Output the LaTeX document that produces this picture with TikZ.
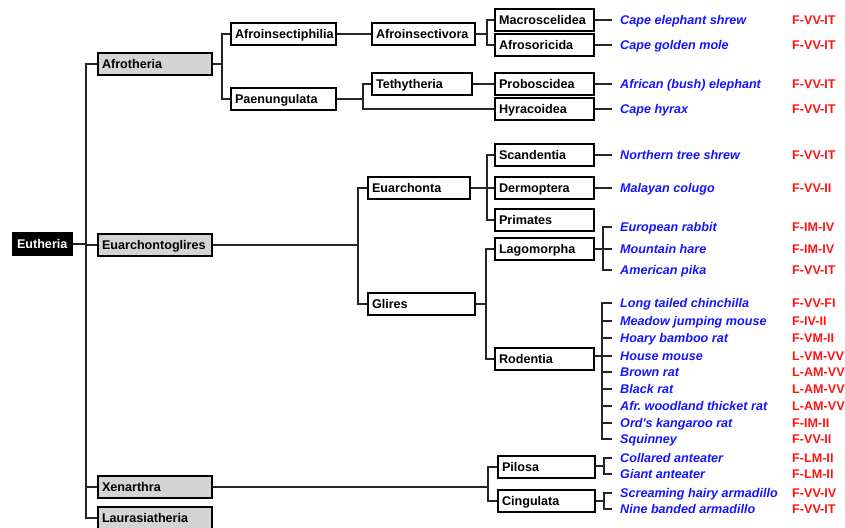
\documentclass[tikz,border=0pt]{standalone}
\usepackage{fontspec}
\setmainfont{Liberation Sans}
\usepackage{tikz}

\definecolor{boxgray}{HTML}{D4D4D4}
\definecolor{linegray}{HTML}{262626}
\definecolor{sppblue}{HTML}{1414FF}
\definecolor{codered}{HTML}{FF1414}

\tikzset{
  taxon/.style={draw=black, line width=2pt, anchor=west, inner xsep=4pt, inner ysep=0pt,
    minimum height=22pt, text height=10.5pt, text depth=2pt, align=left,
    font=\bfseries\fontsize{12.6}{14}\selectfont},
  rootbox/.style={taxon, fill=black, text=white, text width=51pt},
  superbox/.style={taxon, fill=boxgray, text width=106pt},
  cladebox/.style={taxon, fill=white, text width=#1},
  orderbox/.style={taxon, fill=white, text width=91pt},
  species/.style={anchor=west, inner xsep=8pt, inner ysep=0pt, text=sppblue,
    text height=10.5pt, text depth=2pt, font=\bfseries\itshape\fontsize{12.6}{14}\selectfont},
  code/.style={anchor=west, inner sep=0pt, text=codered,
    text height=10.5pt, text depth=2pt, font=\bfseries\fontsize{12.6}{14}\selectfont},
  branch/.style={draw=linegray, line width=2pt},
}

\begin{document}
\begin{tikzpicture}[x=1pt, y=-1pt]
  \useasboundingbox (0,0) rectangle (845,527);
  \clip (0,0) rectangle (845,527);

  % root and superorders
  \node[rootbox] (eutheria) at (12,244) {Eutheria};
  \node[superbox] (afrotheria) at (97,64) {Afrotheria};
  \node[superbox] (euarchontoglires) at (97,245) {Euarchontoglires};
  \node[superbox] (xenarthra) at (97,487) {Xenarthra};
  \node[superbox] (laurasiatheria) at (97,518) {Laurasiatheria};

  \coordinate (jEutheria) at (86,244);
  \draw[branch] (eutheria.east) -- (jEutheria);
  \draw[branch] (jEutheria) |- (afrotheria.west);
  \draw[branch] (jEutheria) |- (euarchontoglires.west);
  \draw[branch] (jEutheria) |- (xenarthra.west);
  \draw[branch] (jEutheria) |- (laurasiatheria.west);

  % Afrotheria
  \node[cladebox=97pt] (afroinsectiphilia) at (230,34) {Afroinsectiphilia};
  \node[cladebox=97pt] (paenungulata) at (230,99) {Paenungulata};
  \node[cladebox=95pt] (afroinsectivora) at (371,34) {Afroinsectivora};
  \node[cladebox=92pt] (tethytheria) at (371,84) {Tethytheria};
  \node[orderbox] (macroscelidea) at (494,20) {Macroscelidea};
  \node[orderbox] (afrosoricida) at (494,45) {Afrosoricida};
  \node[orderbox] (proboscidea) at (494,84) {Proboscidea};
  \node[orderbox] (hyracoidea) at (494,109) {Hyracoidea};

  \coordinate (jAfrotheria) at (222,64);
  \draw[branch] (afrotheria.east) -- (jAfrotheria);
  \draw[branch] (jAfrotheria) |- (afroinsectiphilia.west);
  \draw[branch] (jAfrotheria) |- (paenungulata.west);
  \draw[branch] (afroinsectiphilia) -- (afroinsectivora);
  \coordinate (jAfroinsectivora) at (487,34);
  \draw[branch] (afroinsectivora.east) -- (jAfroinsectivora);
  \draw[branch] (jAfroinsectivora) |- (macroscelidea.west);
  \draw[branch] (jAfroinsectivora) |- (afrosoricida.west);
  \coordinate (jPaenungulata) at (363,99);
  \draw[branch] (paenungulata.east) -- (jPaenungulata);
  \draw[branch] (jPaenungulata) |- (tethytheria.west);
  \draw[branch] (jPaenungulata) |- (hyracoidea.west);
  \draw[branch] (tethytheria) -- (proboscidea);

  \node[species] (capeShrew) at (612,20) {Cape elephant shrew};
  \node[species] (capeMole) at (612,45) {Cape golden mole};
  \node[species] (bushElephant) at (612,84) {African (bush) elephant};
  \node[species] (capeHyrax) at (612,109) {Cape hyrax};
  \draw[branch] (macroscelidea.east) -- (capeShrew.west);
  \draw[branch] (afrosoricida.east) -- (capeMole.west);
  \draw[branch] (proboscidea.east) -- (bushElephant.west);
  \draw[branch] (hyracoidea.east) -- (capeHyrax.west);

  % Euarchontoglires
  \node[cladebox=94pt] (euarchonta) at (367,188) {Euarchonta};
  \node[cladebox=99pt] (glires) at (367,304) {Glires};
  \node[orderbox] (scandentia) at (494,155) {Scandentia};
  \node[orderbox] (dermoptera) at (494,188) {Dermoptera};
  \node[orderbox] (primates) at (494,220) {Primates};
  \node[orderbox] (lagomorpha) at (494,249) {Lagomorpha};
  \node[orderbox] (rodentia) at (494,359) {Rodentia};

  \coordinate (jEuarchontoglires) at (358,245);
  \draw[branch] (euarchontoglires.east) -- (jEuarchontoglires);
  \draw[branch] (jEuarchontoglires) |- (euarchonta.west);
  \draw[branch] (jEuarchontoglires) |- (glires.west);
  \coordinate (jEuarchonta) at (487,188);
  \draw[branch] (euarchonta.east) -- (jEuarchonta);
  \draw[branch] (jEuarchonta) |- (scandentia.west);
  \draw[branch] (jEuarchonta) |- (dermoptera.west);
  \draw[branch] (jEuarchonta) |- (primates.west);
  \coordinate (jGlires) at (486,304);
  \draw[branch] (glires.east) -- (jGlires);
  \draw[branch] (jGlires) |- (lagomorpha.west);
  \draw[branch] (jGlires) |- (rodentia.west);

  \node[species] (treeShrew) at (612,155) {Northern tree shrew};
  \node[species] (colugo) at (612,188) {Malayan colugo};
  \draw[branch] (scandentia.east) -- (treeShrew.west);
  \draw[branch] (dermoptera.east) -- (colugo.west);

  % Lagomorpha
  \node[species] (rabbit) at (612,227) {European rabbit};
  \node[species] (hare) at (612,249) {Mountain hare};
  \node[species] (pika) at (612,270) {American pika};
  \coordinate (jLagomorpha) at (603,249);
  \draw[branch] (lagomorpha.east) -- (jLagomorpha);
  \draw[branch] (jLagomorpha) |- (rabbit.west);
  \draw[branch] (jLagomorpha) |- (hare.west);
  \draw[branch] (jLagomorpha) |- (pika.west);

  % Rodentia
  \node[species] (chinchilla) at (612,303) {Long tailed chinchilla};
  \node[species] (jumpingMouse) at (612,321) {Meadow jumping mouse};
  \node[species] (bambooRat) at (612,338) {Hoary bamboo rat};
  \node[species] (houseMouse) at (612,356) {House mouse};
  \node[species] (brownRat) at (612,372) {Brown rat};
  \node[species] (blackRat) at (612,389) {Black rat};
  \node[species] (thicketRat) at (612,406) {Afr.\ woodland thicket rat};
  \node[species] (kangarooRat) at (612,423) {Ord\textquotesingle s kangaroo rat};
  \node[species] (squinney) at (612,439) {Squinney};
  \coordinate (jRodentia) at (602,356);
  \draw[branch] (rodentia.east |- jRodentia) -- (jRodentia);
  \draw[branch] (jRodentia) |- (chinchilla.west);
  \draw[branch] (jRodentia) |- (jumpingMouse.west);
  \draw[branch] (jRodentia) |- (bambooRat.west);
  \draw[branch] (jRodentia) |- (houseMouse.west);
  \draw[branch] (jRodentia) |- (brownRat.west);
  \draw[branch] (jRodentia) |- (blackRat.west);
  \draw[branch] (jRodentia) |- (thicketRat.west);
  \draw[branch] (jRodentia) |- (kangarooRat.west);
  \draw[branch] (jRodentia) |- (squinney.west);

  % Xenarthra
  \node[cladebox=89pt] (pilosa) at (497,467) {Pilosa};
  \node[cladebox=89pt] (cingulata) at (497,501) {Cingulata};
  \coordinate (jXenarthra) at (488,487);
  \draw[branch] (xenarthra.east) -- (jXenarthra);
  \draw[branch] (jXenarthra) |- (pilosa.west);
  \draw[branch] (jXenarthra) |- (cingulata.west);

  \node[species] (collaredAnteater) at (612,458) {Collared anteater};
  \node[species] (giantAnteater) at (612,474) {Giant anteater};
  \node[species] (hairyArmadillo) at (612,493) {Screaming hairy armadillo};
  \node[species] (bandedArmadillo) at (612,509) {Nine banded armadillo};
  \coordinate (jPilosa) at (604,466);
  \draw[branch] (pilosa.east |- jPilosa) -- (jPilosa);
  \draw[branch] (jPilosa) |- (collaredAnteater.west);
  \draw[branch] (jPilosa) |- (giantAnteater.west);
  \coordinate (jCingulata) at (604,501);
  \draw[branch] (cingulata.east) -- (jCingulata);
  \draw[branch] (jCingulata) |- (hairyArmadillo.west);
  \draw[branch] (jCingulata) |- (bandedArmadillo.west);

  % codes
  \node[code] (cCapeShrew) at (792,20) {F-VV-IT};
  \node[code] (cCapeMole) at (792,45) {F-VV-IT};
  \node[code] (cBushElephant) at (792,84) {F-VV-IT};
  \node[code] (cCapeHyrax) at (792,109) {F-VV-IT};
  \node[code] (cTreeShrew) at (792,155) {F-VV-IT};
  \node[code] (cColugo) at (792,188) {F-VV-II};
  \node[code] (cRabbit) at (792,227) {F-IM-IV};
  \node[code] (cHare) at (792,249) {F-IM-IV};
  \node[code] (cPika) at (792,270) {F-VV-IT};
  \node[code] (cChinchilla) at (792,303) {F-VV-FI};
  \node[code] (cJumpingMouse) at (792,321) {F-IV-II};
  \node[code] (cBambooRat) at (792,338) {F-VM-II};
  \node[code] (cHouseMouse) at (792,356) {L-VM-VV};
  \node[code] (cBrownRat) at (792,372) {L-AM-VV};
  \node[code] (cBlackRat) at (792,389) {L-AM-VV};
  \node[code] (cThicketRat) at (792,406) {L-AM-VV};
  \node[code] (cKangarooRat) at (792,423) {F-IM-II};
  \node[code] (cSquinney) at (792,439) {F-VV-II};
  \node[code] (cCollaredAnteater) at (792,458) {F-LM-II};
  \node[code] (cGiantAnteater) at (792,474) {F-LM-II};
  \node[code] (cHairyArmadillo) at (792,493) {F-VV-IV};
  \node[code] (cBandedArmadillo) at (792,509) {F-VV-IT};
\end{tikzpicture}
\end{document}
